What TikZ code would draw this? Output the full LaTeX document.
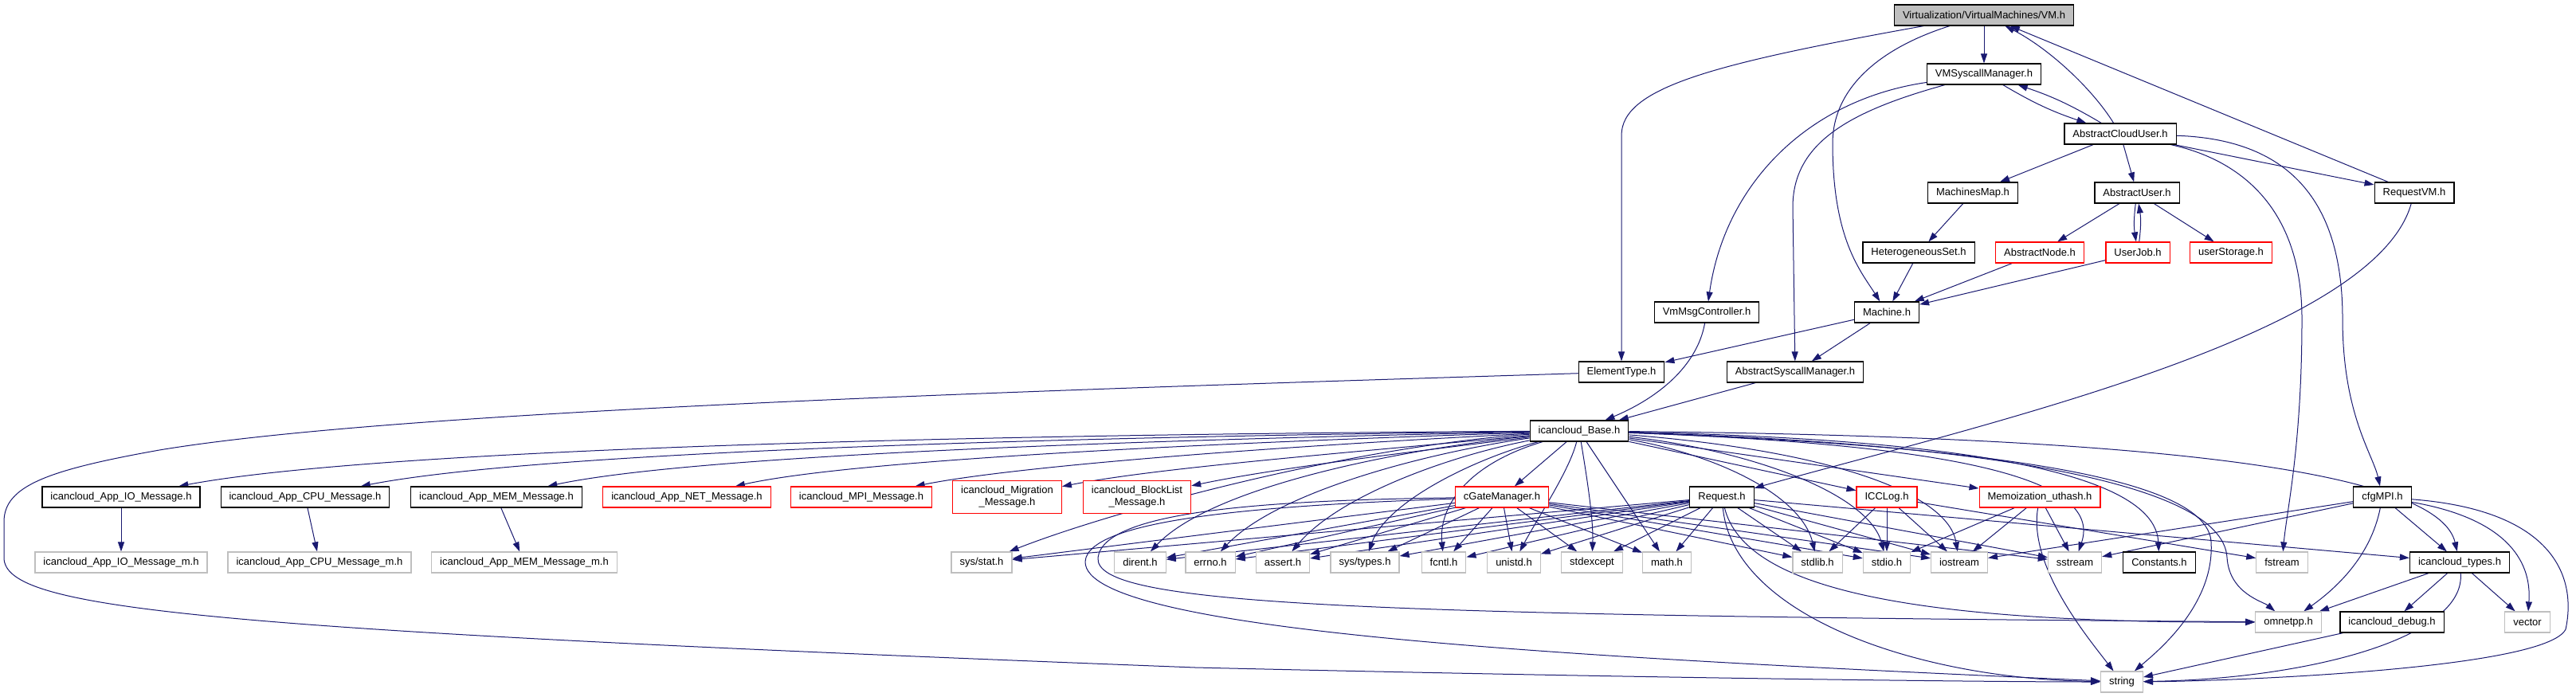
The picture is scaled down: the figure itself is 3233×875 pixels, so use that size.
\documentclass[tikz,border=0pt]{standalone}
\usepackage{fontspec}
\setmainfont{Liberation Sans}
\usetikzlibrary{arrows.meta,backgrounds}
\definecolor{edgeblue}{HTML}{191970}
\definecolor{extgray}{HTML}{BFBFBF}
\tikzset{
  file/.style={draw=black, line width=1.2pt, fill=white, inner xsep=10.5pt, inner ysep=0pt,
    minimum height=26pt, font=\fontsize{13}{15}\selectfont, align=center},
  extfile/.style={file, draw=extgray},
  cutfile/.style={file, draw=red},
  tallfile/.style={cutfile, minimum height=41pt},
  rootfile/.style={file, fill=extgray},
  dep/.style={draw=edgeblue, line width=1pt, -{Triangle[length=12pt,width=8pt]}}
}

\begin{document}
\begin{tikzpicture}[x=1pt, y=-1pt]
\useasboundingbox (0,0) rectangle (3233,875);
% upper part
\node[rootfile] (vm) at (2490, 19) {Virtualization/VirtualMachines/VM.h};
\node[file] (vmsys) at (2490, 93) {VMSyscallManager.h};
\node[file] (acu) at (2661, 168) {AbstractCloudUser.h};
\node[file] (mmap) at (2476, 242) {MachinesMap.h};
\node[file] (auser) at (2682, 242) {AbstractUser.h};
\node[file] (reqvm) at (3030, 242) {RequestVM.h};
\node[file] (hetero) at (2408, 317) {HeterogeneousSet.h};
\node[cutfile] (anode) at (2560, 317) {AbstractNode.h};
\node[cutfile] (ujob) at (2683, 317) {UserJob.h};
\node[cutfile] (ustor) at (2800, 317) {userStorage.h};
\node[file] (vmmsg) at (2142, 392) {VmMsgController.h};
\node[file] (machine) at (2368, 392) {Machine.h};
\node[file] (etype) at (2035, 467) {ElementType.h};
\node[file] (asys) at (2253, 467) {AbstractSyscallManager.h};
\node[file] (base) at (1982, 541) {icancloud\_Base.h};
% message headers
\node[file] (io) at (152, 624) {icancloud\_App\_IO\_Message.h};
\node[file] (cpu) at (383, 624) {icancloud\_App\_CPU\_Message.h};
\node[file] (mem) at (623, 624) {icancloud\_App\_MEM\_Message.h};
\node[cutfile] (net) at (862, 624) {icancloud\_App\_NET\_Message.h};
\node[cutfile] (mpi) at (1081, 624) {icancloud\_MPI\_Message.h};
\node[tallfile] (migr) at (1264, 624) {icancloud\_Migration\\\_Message.h};
\node[tallfile] (block) at (1427, 624) {icancloud\_BlockList\\\_Message.h};
\node[cutfile] (cgate) at (1885, 624) {cGateManager.h};
\node[file] (request) at (2161, 624) {Request.h};
\node[cutfile] (icclog) at (2368, 624) {ICCLog.h};
\node[cutfile] (memo) at (2560, 624) {Memoization\_uthash.h};
\node[file] (cfgmpi) at (2990, 624) {cfgMPI.h};
% system headers
\node[extfile] (iom) at (152, 706) {icancloud\_App\_IO\_Message\_m.h};
\node[extfile] (cpum) at (401, 706) {icancloud\_App\_CPU\_Message\_m.h};
\node[extfile] (memm) at (658, 706) {icancloud\_App\_MEM\_Message\_m.h};
\node[extfile] (sysstat) at (1232, 706) {sys/stat.h};
\node[extfile] (dirent) at (1431, 706) {dirent.h};
\node[extfile] (errno) at (1519, 706) {errno.h};
\node[extfile] (assert) at (1610, 706) {assert.h};
\node[extfile] (systypes) at (1713, 706) {sys/types.h};
\node[extfile] (fcntl) at (1812, 706) {fcntl.h};
\node[extfile] (unistd) at (1900, 706) {unistd.h};
\node[extfile] (stdexcept) at (1998, 706) {stdexcept};
\node[extfile] (math) at (2092, 706) {math.h};
\node[extfile] (stdlib) at (2281, 706) {stdlib.h};
\node[extfile] (stdio) at (2368, 706) {stdio.h};
\node[extfile] (iostream) at (2459, 706) {iostream};
\node[extfile] (sstream) at (2604, 706) {sstream};
\node[file] (constants) at (2710, 706) {Constants.h};
\node[extfile] (fstream) at (2864, 706) {fstream};
\node[file] (itypes) at (3087, 706) {icancloud\_types.h};
\node[extfile] (omnetpp) at (2872, 781) {omnetpp.h};
\node[file] (idebug) at (3002, 781) {icancloud\_debug.h};
\node[extfile] (vector) at (3172, 781) {vector};
\node[extfile] (string) at (2663, 856) {string};

\begin{scope}[on background layer]
% VM.h and its users
\draw[dep] (vm) -- (vmsys);
\draw[dep] (vm) .. controls (2150,80) and (2035,110) .. (2035,170) -- (etype);
\draw[dep] (vm) .. controls (2360,60) and (2300,110) .. (2300,180) .. controls (2300,300) and (2335,340) .. (machine);
\draw[dep] (acu) .. controls (2625,110) and (2570,60) .. (vm);
\draw[dep] (reqvm) -- (vm);
\draw[dep] (vmsys) to[bend right=6] (acu);
\draw[dep] (acu) to[bend right=6] (vmsys);
\draw[dep] (vmsys) .. controls (2270,125) and (2165,230) .. (vmmsg);
\draw[dep] (vmsys) .. controls (2320,140) and (2250,180) .. (2250,260) -- (asys);
\draw[dep] (acu) -- (mmap);
\draw[dep] (acu) -- (auser);
\draw[dep] (acu) -- (reqvm);
\draw[dep] (acu) .. controls (2810,200) and (2889,260) .. (2889,400) .. controls (2889,560) and (2870,640) .. (fstream);
\draw[dep] (acu) .. controls (2880,175) and (2940,260) .. (2940,400) .. controls (2940,520) and (2978,570) .. (cfgmpi);
\draw[dep] (mmap) -- (hetero);
\draw[dep] (hetero) -- (machine);
\draw[dep] (anode) -- (machine);
\draw[dep] (ujob) -- (machine);
\draw[dep] (auser) -- (anode);
\draw[dep] (auser) to[bend right=8] (ujob);
\draw[dep] (ujob) to[bend right=8] (auser);
\draw[dep] (auser) -- (ustor);
\draw[dep] (machine) -- (etype);
\draw[dep] (machine) -- (asys);
\draw[dep] (vmmsg) .. controls (2130,460) and (2080,500) .. (base);
\draw[dep] (asys) -- (base);
\draw[dep] (reqvm) .. controls (2980,420) and (2500,530) .. (request);
\draw[dep] (etype) .. controls (1300,490) and (500,515) .. (200,565) .. controls (60,590) and (5,610) .. (5,655) -- (5,700) .. controls (5,765) and (250,790) .. (1500,838) .. controls (2100,852) and (2500,856) .. (string);
% icancloud_Base.h, left side
\draw[dep] (base) .. controls (1100,546) and (450,568) .. (io);
\draw[dep] (base) .. controls (1200,550) and (650,572) .. (cpu);
\draw[dep] (base) .. controls (1300,555) and (850,576) .. (mem);
\draw[dep] (base) .. controls (1400,560) and (1050,582) .. (net);
\draw[dep] (base) .. controls (1500,566) and (1250,590) .. (mpi);
\draw[dep] (base) .. controls (1650,572) and (1450,588) .. (migr);
\draw[dep] (base) .. controls (1750,570) and (1600,588) .. (block);
\draw[dep] (base) -- (cgate);
\draw[dep] (base) .. controls (1700,560) and (1400,640) .. (sysstat);
\draw[dep] (base) .. controls (1750,565) and (1520,612) .. (dirent);
\draw[dep] (base) .. controls (1780,570) and (1600,620) .. (errno);
\draw[dep] (base) .. controls (1820,572) and (1680,622) .. (assert);
\draw[dep] (base) .. controls (1850,576) and (1740,630) .. (systypes);
\draw[dep] (base) .. controls (1850,580) and (1805,630) .. (fcntl);
\draw[dep] (base) .. controls (1970,590) and (1930,650) .. (unistd);
\draw[dep] (base) .. controls (1990,590) and (2000,650) .. (stdexcept);
\draw[dep] (base) -- (math);
% icancloud_Base.h, right side
\draw[dep] (base) -- (icclog);
\draw[dep] (base) -- (memo);
\draw[dep] (base) .. controls (2150,570) and (2260,620) .. (stdlib);
\draw[dep] (base) .. controls (2200,566) and (2345,620) .. (stdio);
\draw[dep] (base) .. controls (2300,566) and (2445,620) .. (iostream);
\draw[dep] (base) .. controls (2450,558) and (2640,600) .. (sstream);
\draw[dep] (base) .. controls (2500,552) and (2705,600) .. (constants);
\draw[dep] (base) .. controls (2450,555) and (2790,600) .. (2795,700) .. controls (2798,745) and (2840,755) .. (omnetpp);
\draw[dep] (base) .. controls (2500,560) and (2770,600) .. (2775,680) .. controls (2780,760) and (2705,820) .. (string);
\draw[dep] (base) .. controls (2700,548) and (3060,590) .. (itypes);
% cGateManager.h
\foreach \target in {sysstat,dirent,errno,assert,systypes,fcntl,unistd,stdexcept,math,stdlib,stdio,iostream,sstream}
  \draw[dep] (cgate) -- (\target);
\draw[dep] (cgate) .. controls (1600,628) and (1385,640) .. (1378,700) .. controls (1372,760) and (1700,772) .. (omnetpp);
\draw[dep] (cgate) .. controls (1600,634) and (1365,650) .. (1362,705) .. controls (1360,795) and (2000,826) .. (string);
% Request.h
\foreach \target in {sysstat,dirent,errno,assert,systypes,fcntl,unistd,stdexcept,math,stdlib,stdio,iostream,sstream,itypes}
  \draw[dep] (request) -- (\target);
\draw[dep] (request) .. controls (2190,740) and (2400,782) .. (omnetpp);
\draw[dep] (request) .. controls (2175,770) and (2400,852) .. (string);
% ICCLog.h and Memoization_uthash.h
\foreach \target in {stdlib,stdio,iostream,fstream}
  \draw[dep] (icclog) -- (\target);
\foreach \target in {stdio,iostream,sstream}
  \draw[dep] (memo) -- (\target);
\draw[dep] (memo) .. controls (2545,710) and (2620,800) .. (string);
% cfgMPI.h
\foreach \target in {iostream,sstream,itypes}
  \draw[dep] (cfgmpi) -- (\target);
\draw[dep] (cfgmpi) .. controls (2975,700) and (2930,740) .. (omnetpp);
\draw[dep] (cfgmpi) .. controls (3140,650) and (3178,700) .. (vector);
\draw[dep] (cfgmpi) .. controls (3200,640) and (3235,720) .. (3220,790) .. controls (3195,840) and (2800,855) .. (string);
% icancloud_types.h
\foreach \target in {omnetpp,idebug,vector}
  \draw[dep] (itypes) -- (\target);
\draw[dep] (itypes) .. controls (3095,800) and (2900,852) .. (string);
\draw[dep] (idebug) -- (string);
% message headers
\draw[dep] (io) -- (iom);
\draw[dep] (cpu) -- (cpum);
\draw[dep] (mem) -- (memm);
\end{scope}
\end{tikzpicture}
\end{document}
